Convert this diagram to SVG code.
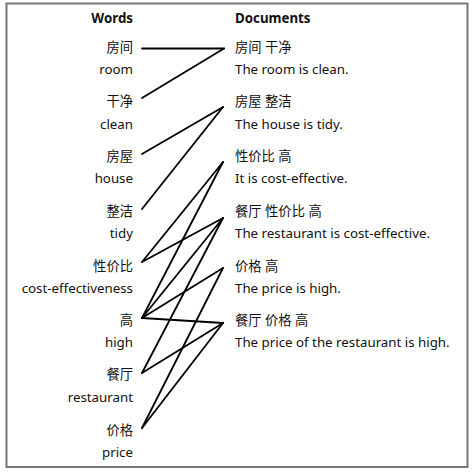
<svg xmlns="http://www.w3.org/2000/svg" width="474" height="472" viewBox="0 0 474 472">
<style>
text{font-family:"Noto Sans","Noto Sans CJK SC",sans-serif;font-size:13.3px;fill:#111}
.w{text-anchor:end}
.h{font-weight:bold}
#connectors line{stroke:#000;stroke-width:1.8;stroke-linecap:round}
</style>
<rect x="0" y="0" width="474" height="472" fill="#fff"/>
<rect x="6.5" y="3.5" width="461" height="463.5" fill="none" stroke="#777" stroke-width="2"/>
<g id="headers">
<text class="w h" x="133" y="23">Words</text>
<text class="h" x="235" y="23">Documents</text>
</g>
<g id="word-room"><text class="w" x="133" y="52">房间</text><text class="w" x="133" y="74">room</text></g>
<g id="word-clean"><text class="w" x="133" y="106">干净</text><text class="w" x="133" y="129">clean</text></g>
<g id="word-house"><text class="w" x="133" y="161">房屋</text><text class="w" x="133" y="183">house</text></g>
<g id="word-tidy"><text class="w" x="133" y="216">整洁</text><text class="w" x="133" y="238">tidy</text></g>
<g id="word-cost"><text class="w" x="133" y="271">性价比</text><text class="w" x="133" y="293">cost-effectiveness</text></g>
<g id="word-high"><text class="w" x="133" y="325">高</text><text class="w" x="133" y="347">high</text></g>
<g id="word-restaurant"><text class="w" x="133" y="379">餐厅</text><text class="w" x="133" y="402">restaurant</text></g>
<g id="word-price"><text class="w" x="133" y="435">价格</text><text class="w" x="133" y="457">price</text></g>
<g id="doc1"><text x="235" y="52">房间 干净</text><text x="235" y="74">The room is clean.</text></g>
<g id="doc2"><text x="235" y="106">房屋 整洁</text><text x="235" y="129">The house is tidy.</text></g>
<g id="doc3"><text x="235" y="161">性价比 高</text><text x="235" y="183">It is cost-effective.</text></g>
<g id="doc4"><text x="235" y="216">餐厅 性价比 高</text><text x="235" y="238">The restaurant is cost-effective.</text></g>
<g id="doc5"><text x="235" y="271">价格 高</text><text x="235" y="293">The price is high.</text></g>
<g id="doc6"><text x="235" y="325">餐厅 价格 高</text><text x="235" y="347">The price of the restaurant is high.</text></g>
<g id="connectors">
<line x1="142" y1="48.5" x2="224" y2="48.5"/>
<line x1="142" y1="98" x2="224" y2="48.5"/>
<line x1="142" y1="154" x2="223" y2="107"/>
<line x1="142" y1="209" x2="223" y2="107"/>
<line x1="142" y1="262" x2="223" y2="162"/>
<line x1="142" y1="262" x2="223" y2="218"/>
<line x1="142" y1="318" x2="223" y2="162"/>
<line x1="142" y1="318" x2="223" y2="218"/>
<line x1="142" y1="318" x2="223" y2="268"/>
<line x1="142" y1="318" x2="223" y2="323"/>
<line x1="142" y1="373" x2="223" y2="218"/>
<line x1="142" y1="373" x2="223" y2="323"/>
<line x1="142" y1="428" x2="223" y2="268"/>
<line x1="142" y1="428" x2="223" y2="323"/>
</g>
</svg>
